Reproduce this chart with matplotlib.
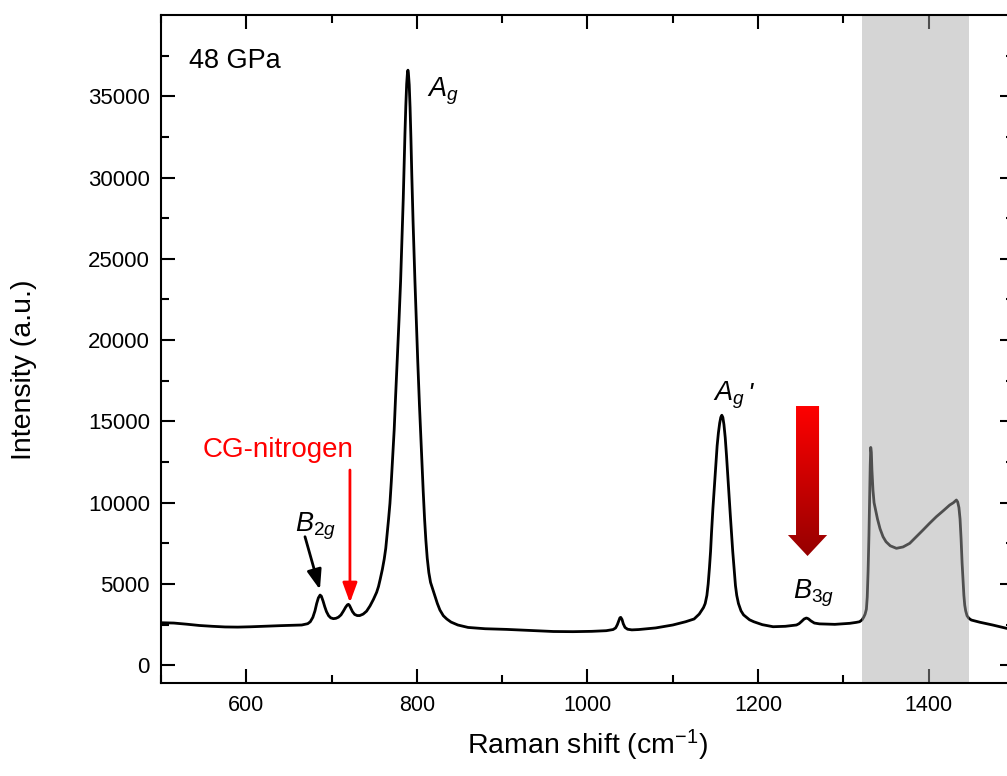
import numpy as np
import matplotlib
matplotlib.use('Agg')
import matplotlib.pyplot as plt
from matplotlib.patches import Polygon
from matplotlib.ticker import MultipleLocator
from matplotlib.colors import LinearSegmentedColormap

plt.rcParams['font.family'] = ['Liberation Sans', 'DejaVu Sans']
plt.rcParams['mathtext.fontset'] = 'custom'
plt.rcParams['mathtext.rm'] = 'Liberation Sans'
plt.rcParams['mathtext.it'] = 'Liberation Sans:italic'
plt.rcParams['mathtext.bf'] = 'Liberation Sans:bold'

# spectrum, 48 GPa
raman_shift = [
    500, 515, 530, 545, 560, 575, 590, 605, 620, 640, 655, 665, 672, 675, 678,
    680.5, 682.5, 684.5, 686.5, 688, 690, 692, 694, 696.5, 699, 702, 705, 708,
    711, 714, 716.5, 718.5, 719.8, 721, 722.5, 724.5, 727, 730, 733, 737, 741,
    745, 749, 752.8, 755, 757, 759.5, 761.7, 763.5, 765, 766.8, 768.4, 770,
    771.5, 773.4, 775, 777, 779, 780.9, 782.5, 784, 785, 786, 787, 788, 789,
    789.5, 790, 791, 792, 793, 794, 795.5, 797.7, 799.5, 801, 803, 804.7, 806,
    807.4, 809, 810.5, 812.1, 814, 816, 818.5, 821.1, 824, 827, 831, 835, 840,
    848, 860, 880, 905, 930, 960, 983, 1005, 1022, 1030, 1033, 1035, 1036.5,
    1038, 1039, 1040.5, 1042, 1044, 1047, 1052, 1060, 1080, 1100, 1115, 1125,
    1131, 1136, 1138, 1140, 1141.5, 1143, 1144.3, 1145.4, 1147, 1149, 1150.5,
    1152, 1153.5, 1155, 1156.3, 1157.5, 1158.7, 1160, 1161.5, 1163, 1164.5,
    1166, 1167.5, 1168.8, 1170.3, 1172, 1173.5, 1175, 1177, 1180, 1183,
    1186.4, 1190, 1195, 1205, 1217.6, 1232, 1245, 1248, 1251, 1254, 1256.7,
    1259, 1262, 1266, 1272, 1290, 1307.5, 1315, 1319, 1322, 1324, 1325.5, 1327,
    1328, 1329, 1330, 1330.8, 1331.5, 1332.1, 1332.8, 1333.5, 1334.7, 1336,
    1338, 1340, 1343, 1346.5, 1350, 1355, 1362.2, 1370, 1377.8, 1385, 1393.4,
    1401, 1409, 1417, 1424.7, 1429, 1432.5, 1434, 1435.5, 1436.8, 1438,
    1439.2, 1440.3, 1441.3, 1442.3, 1443.4, 1445, 1447, 1450, 1460, 1475,
    1491.4, 1500,
]
intensity = [
    2620, 2600, 2530, 2450, 2400, 2360, 2350, 2370, 2400, 2440, 2460, 2480,
    2560, 2680, 2950, 3350, 3800, 4150, 4320, 4250, 3950, 3600, 3300, 3050,
    2920, 2870, 2890, 2960, 3100, 3350, 3580, 3720, 3750, 3680, 3520, 3300,
    3130, 3060, 3060, 3150, 3330, 3650, 4050, 4490, 4850, 5300, 5900, 6537,
    7200, 8000, 9000, 9963, 11300, 12700, 14514, 16500, 18800, 21200, 23630,
    26200, 28700, 30700, 32700, 34400, 35750, 36500, 36600, 36450, 35700,
    34300, 32400, 30200, 27300, 23630, 20900, 18700, 16000, 13900, 12300,
    10700, 9000, 7700, 6600, 5700, 5100, 4700, 4300, 3800, 3400, 3050, 2850,
    2660, 2480, 2330, 2250, 2210, 2150, 2080, 2070, 2090, 2130, 2200, 2300,
    2500, 2720, 2920, 2950, 2820, 2550, 2330, 2220, 2180, 2200, 2300, 2480,
    2680, 2850, 3150, 3550, 3800, 4300, 5000, 6000, 7000, 8136, 9600, 11200,
    12400, 13500, 14300, 14900, 15250, 15380, 15250, 14800, 14000, 12900,
    11700, 10400, 9200, 8136, 7000, 5900, 4900, 4300, 3800, 3350, 3100, 2950,
    2800, 2680, 2500, 2374, 2400, 2480, 2560, 2700, 2850, 2910, 2860, 2730,
    2600, 2550, 2520, 2583, 2640, 2681, 2800, 2980, 3150, 3450, 4200, 5800,
    8000, 10300, 12300, 13400, 13100, 12000, 10781, 10000, 9500, 9000, 8400,
    7909, 7600, 7350, 7195, 7280, 7503, 7880, 8321, 8730, 9139, 9500, 9858,
    10000, 10166, 10050, 9700, 9000, 7800, 6300, 5246, 4300, 3700, 3350,
    3050, 2900, 2786, 2650, 2480, 2275, 2230,
]

# diamond window that hides the sample signal
band_lo, band_hi = 1321.5, 1447

fig = plt.figure(figsize=(10.07, 7.76), dpi=100)
ax = fig.add_axes([0.1599, 0.1202, 0.847, 0.8604])

ax.plot(raman_shift, intensity, color='black', lw=2.0, zorder=2,
        solid_joinstyle='round')
ax.axvspan(band_lo, band_hi, color='#a8a8a8', alpha=0.475, lw=0, zorder=2.3)

ax.set_xlim(500, 1500)
ax.set_ylim(-1070, 39990)
ax.set_xticks([600, 800, 1000, 1200, 1400])
ax.xaxis.set_minor_locator(MultipleLocator(100))
ax.set_yticks(list(range(0, 40000, 5000)))
ax.yaxis.set_minor_locator(MultipleLocator(2500))

ax.tick_params(which='both', direction='in', top=True, right=True, width=1.5)
ax.tick_params(which='major', length=10)
ax.tick_params(which='minor', length=5.5)
ax.tick_params(axis='x', labelsize=15.5, pad=9)
ax.tick_params(axis='y', labelsize=16, pad=8)
for s in ax.spines.values():
    s.set_linewidth(1.5)

ax.set_xlabel('Raman shift (cm$^{-1}$)', fontsize=20.5)
ax.set_ylabel('Intensity (a.u.)', fontsize=20.5)
ax.xaxis.set_label_coords(0.5, -0.068)
ax.yaxis.set_label_coords(-0.1454, 0.4695)

# labels of the modes
ax.text(533, 36716, '48 GPa', fontsize=19.5)
ax.text(811.4, 34970, r'$A_g$', fontsize=19.5)
ax.text(1147.3, 16316, r'$A_g$', fontsize=19.5)
ax.text(1187, 17400, "'", fontsize=19.5, style='italic', va='top')
ax.text(1241, 4120, r'$B_{3g}$', fontsize=19.5)
ax.text(657, 8216, r'$B_{2g}$', fontsize=19.5)
ax.text(549.2, 12829, 'CG-nitrogen', fontsize=20, color='red')

ax.annotate('', xy=(686.3, 4654), xytext=(668.8, 7909),
            arrowprops=dict(arrowstyle='-|>,head_length=0.6,head_width=0.22',
                            color='black', lw=2, mutation_scale=20,
                            shrinkA=0, shrinkB=0))
ax.annotate('', xy=(721.5, 3850), xytext=(721.5, 12011),
            arrowprops=dict(arrowstyle='-|>,head_length=0.6,head_width=0.22',
                            color='red', lw=2, mutation_scale=20,
                            shrinkA=0, shrinkB=0))

# fat down arrow with a red gradient
ac, shaft_w, head_w = 1258, 13.5, 23
top_y, neck_y, tip_y = 15947, 8014, 6722
arrow = Polygon([(ac - shaft_w, top_y), (ac + shaft_w, top_y),
                 (ac + shaft_w, neck_y), (ac + head_w, neck_y),
                 (ac, tip_y), (ac - head_w, neck_y),
                 (ac - shaft_w, neck_y)],
                closed=True, facecolor='none', edgecolor='none')
ax.add_patch(arrow)
reds = LinearSegmentedColormap.from_list('reds_grad', ['#ff0000', '#960000'])
grad = np.linspace(0, 1, 256).reshape(-1, 1)
im = ax.imshow(grad, cmap=reds, aspect='auto', origin='upper',
               extent=(ac - head_w, ac + head_w, tip_y, top_y), zorder=3)
im.set_clip_path(arrow)
ax.set_xlim(500, 1500)
ax.set_ylim(-1070, 39990)

fig.savefig('out.png', dpi=100)
